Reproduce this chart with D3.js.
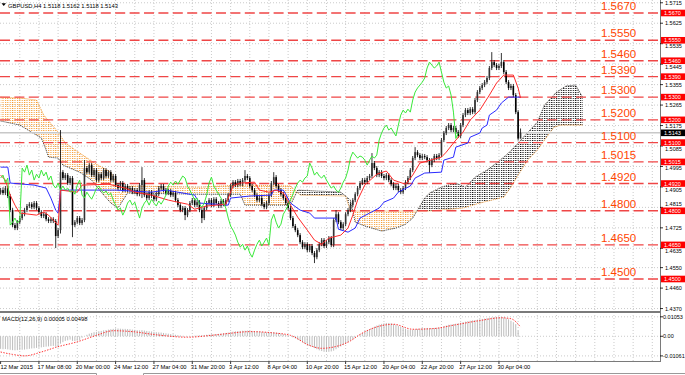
<!DOCTYPE html>
<html>
<head>
<meta charset="utf-8">
<title>GBPUSD,H4</title>
<script src="https://cdn.jsdelivr.net/npm/d3@7"></script>
<style>
  body { margin: 0; background: #fff; }
  svg { display: block; }
  .small { font-family: 'Liberation Sans', Arial, sans-serif; font-size: 5.8px; fill: #000; }
  .tick { font-family: 'Liberation Sans', Arial, sans-serif; font-size: 5.5px; fill: #000; }
  .level { font-family: 'Liberation Sans', Arial, sans-serif; font-size: 11.5px; fill: #ff4500; }
</style>
</head>
<body>
<svg id="chart" width="685" height="375"></svg>
<script>
// H4 closes, one per bar (12 Mar .. 1 May 2015)
const closes = [
  1.4891,1.4878,1.4900,1.4865,1.4803,1.4737,1.4724,1.4750,1.4768,1.4785,
  1.4803,1.4821,1.4829,1.4816,1.4834,1.4812,1.4794,1.4777,1.4785,1.4763,
  1.4755,1.4763,1.4755,1.4689,1.4715,1.4970,1.4944,1.4957,1.4922,1.4944,
  1.4737,1.4750,1.4768,1.4746,1.4759,1.4988,1.4970,1.5001,1.4957,1.4979,
  1.4935,1.4961,1.4944,1.4979,1.4953,1.4970,1.4935,1.4953,1.4913,1.4900,
  1.4922,1.4891,1.4909,1.4891,1.4900,1.4882,1.4891,1.4873,1.4913,1.4935,
  1.4869,1.4856,1.4882,1.4865,1.4851,1.4873,1.4900,1.4909,1.4891,1.4878,
  1.4887,1.4869,1.4878,1.4847,1.4825,1.4803,1.4812,1.4781,1.4803,1.4834,
  1.4847,1.4825,1.4838,1.4803,1.4768,1.4812,1.4834,1.4847,1.4825,1.4851,
  1.4834,1.4821,1.4843,1.4829,1.4847,1.4869,1.4909,1.4926,1.4913,1.4931,
  1.4917,1.4935,1.4953,1.4944,1.4909,1.4891,1.4869,1.4847,1.4856,1.4829,
  1.4816,1.4834,1.4869,1.4922,1.4948,1.4909,1.4891,1.4873,1.4856,1.4834,
  1.4812,1.4768,1.4733,1.4715,1.4693,1.4662,1.4640,1.4653,1.4627,1.4645,
  1.4614,1.4596,1.4627,1.4653,1.4671,1.4645,1.4662,1.4680,1.4649,1.4759,
  1.4785,1.4750,1.4724,1.4741,1.4785,1.4803,1.4825,1.4847,1.4873,1.4900,
  1.4922,1.4935,1.4926,1.4944,1.4953,1.5010,1.4988,1.4957,1.4970,1.4953,
  1.4944,1.4957,1.4935,1.4917,1.4900,1.4909,1.4891,1.4882,1.4900,1.4926,
  1.4944,1.4979,1.5032,1.5058,1.5045,1.5032,1.5041,1.5036,1.5023,1.5001,
  1.5023,1.5041,1.5032,1.5045,1.5111,1.5142,1.5164,1.5177,1.5155,1.5164,
  1.5146,1.5129,1.5177,1.5221,1.5243,1.5230,1.5247,1.5234,1.5287,1.5322,
  1.5340,1.5353,1.5366,1.5384,1.5428,1.5454,1.5441,1.5428,1.5437,1.5454,
  1.5410,1.5366,1.5340,1.5349,1.5309,1.5234,1.5118,1.5143
];
const firstOpen = 1.4880;
const wickPips = 9;
// [bar, pips] where the wick differs from the usual one
const upWicks = [[1,12],[25,185],[35,35],[59,57],[102,26],[114,22],[140,18],[155,44],[173,22],[205,44],[209,40],[217,19]];
const downWicks = [[23,53],[25,15],[30,53],[59,57],[77,22],[84,22],[131,26],[179,35],[217,0]];

// Ichimoku lines as [bar, price]
const tenkan = [[0,1.4957],[2,1.4935],[4,1.4869],[6,1.4825],[8,1.4790],[15,1.4781],[18,1.4794],[20,1.4781],[22,1.4759],[24,1.4737],[25,1.4891],[32,1.4882],[34,1.4913],[45,1.4917],[52,1.4900],[56,1.4882],[63,1.4869],[70,1.4847],[78,1.4829],[81,1.4807],[86,1.4821],[94,1.4829],[97,1.4909],[100,1.4922],[106,1.4926],[108,1.4891],[112,1.4882],[115,1.4891],[118,1.4878],[121,1.4825],[124,1.4772],[128,1.4715],[131,1.4671],[134,1.4653],[137,1.4680],[142,1.4693],[145,1.4724],[147,1.4781],[149,1.4847],[152,1.4913],[157,1.4961],[161,1.4975],[164,1.4935],[169,1.4917],[172,1.4957],[175,1.5010],[184,1.5036],[186,1.5058],[190,1.5111],[193,1.5146],[196,1.5199],[200,1.5243],[204,1.5309],[207,1.5362],[210,1.5397],[214,1.5397],[216,1.5340],[217,1.5296]];
const kijun = [[0,1.4992],[3,1.4992],[4,1.4922],[14,1.4913],[19,1.4900],[21,1.4856],[23,1.4803],[24,1.4790],[25,1.4891],[48,1.4891],[63,1.4882],[69,1.4891],[81,1.4869],[83,1.4834],[95,1.4825],[96,1.4856],[104,1.4865],[113,1.4869],[114,1.4891],[118,1.4891],[119,1.4873],[121,1.4834],[125,1.4803],[129,1.4790],[131,1.4768],[140,1.4768],[141,1.4719],[145,1.4706],[148,1.4724],[150,1.4768],[154,1.4790],[158,1.4812],[160,1.4838],[164,1.4856],[166,1.4882],[171,1.4909],[173,1.4944],[177,1.4966],[184,1.4970],[185,1.5023],[189,1.5036],[190,1.5080],[195,1.5098],[196,1.5124],[200,1.5142],[201,1.5164],[203,1.5177],[204,1.5221],[207,1.5243],[209,1.5274],[212,1.5300],[217,1.5300]];
const senkouA = [[0,1.5195],[8,1.5177],[17,1.5120],[19,1.5067],[20,1.5036],[24,1.5032],[26,1.5001],[33,1.4970],[38,1.4935],[42,1.4882],[46,1.4834],[49,1.4812],[53,1.4878],[83,1.4873],[100,1.4873],[102,1.4825],[121,1.4825],[124,1.4891],[142,1.4882],[146,1.4847],[148,1.4750],[152,1.4733],[159,1.4711],[165,1.4724],[169,1.4741],[172,1.4768],[174,1.4803],[177,1.4856],[179,1.4878],[184,1.4904],[190,1.4922],[194,1.4904],[198,1.4948],[203,1.4979],[207,1.5010],[212,1.5054],[216,1.5098],[219,1.5133],[224,1.5190],[227,1.5265],[232,1.5322],[236,1.5349],[240,1.5353],[243,1.5298]];
const senkouB = [[0,1.5300],[8,1.5296],[15,1.5287],[18,1.5221],[24,1.5146],[27,1.5098],[33,1.5054],[40,1.5005],[46,1.4970],[48,1.4926],[50,1.4869],[52,1.4900],[54,1.4909],[83,1.4904],[100,1.4913],[121,1.4909],[125,1.4869],[144,1.4865],[146,1.4799],[179,1.4799],[193,1.4812],[200,1.4834],[210,1.4860],[213,1.4904],[216,1.4957],[220,1.5023],[224,1.5067],[227,1.5111],[231,1.5168],[234,1.5177],[243,1.5177]];

const levels = [1.5670,1.5550,1.5460,1.5390,1.5300,1.5200,1.5100,1.5015,1.4920,1.4800,1.4650,1.4500];
const priceTicks = [1.5715,1.5625,1.5535,1.5445,1.5355,1.5265,1.5175,1.5085,1.4995,1.4905,1.4815,1.4725,1.4635,1.4550,1.4460,1.4370];
const lastPrice = 1.5143;
const dateLabels = ["12 Mar 2015","17 Mar 08:00","20 Mar 00:00","24 Mar 12:00","27 Mar 04:00","31 Mar 20:00","3 Apr 12:00","8 Apr 04:00","10 Apr 20:00","15 Apr 12:00","20 Apr 04:00","22 Apr 20:00","27 Apr 12:00","30 Apr 04:00"];

// MACD main (histogram), units of 0.0001, one per bar
const macdMain = [
  -68,-70,-69,-71,-73,-75,-76,-75,-74,-73,-72,
  -70,-68,-66,-65,-63,-62,-60,-58,-56,-55,-53,
  -52,-56,-57,-40,-32,-25,-22,-18,-25,-26,-24,
  -22,-8,0,8,14,18,22,24,27,29,
  32,34,36,38,40,42,42,41,40,40,39,38,
  36,35,33,32,33,31,29,27,26,
  24,22,21,20,18,16,14,12,10,8,6,4,2,0,-1,0,
  2,3,4,5,6,7,8,9,10,11,12,13,14,16,18,20,23,
  25,27,28,29,30,30,31,30,29,28,27,26,
  24,22,21,22,23,22,20,18,15,12,8,4,0,-6,
  -12,-18,-25,-32,-40,-46,-52,-58,-64,-70,-76,-80,-84,-85,-84,-82,-78,
  -70,-62,-55,-48,-40,-32,-24,
  -15,-6,2,10,
  18,25,32,38,45,52,58,63,67,70,72,
  72,70,66,62,57,52,46,40,36,34,35,
  38,40,42,43,44,45,44,44,45,46,47,
  50,54,58,62,64,66,68,70,73,76,79,82,84,86,88,90,92,94,
  96,98,100,102,104,105,105,104,
  102,98,92,84,76,66,30,1
];
// MACD signal as [bar, units of 0.0001]
const macdSignal = [[0,-85],[5,-98],[10,-106],[17,-85],[23,-60],[32,-30],[40,5],[47,30],[55,25],[65,8],[78,-5],[88,5],[95,15],[104,25],[114,18],[121,5],[129,-50],[134,-65],[140,-55],[146,-25],[150,10],[160,60],[164,65],[172,38],[181,42],[189,60],[200,85],[209,100],[213,95],[217,50]];

const svg = d3.select("#chart");
const W = 685, plotR = 660, mainB = 311, macdT = 313, macdB = 361.5;

const x = d3.scaleLinear().domain([0, 275]).range([0.6, 0.6 + 275 * 2.396]);
const y = d3.scaleLinear().domain([1.4500, 1.5670]).range([279, 13]);
const ym = d3.scaleLinear().domain([-0.01061, 0.01053]).range([355.9, 316.8]);

const defs = svg.append("defs");
defs.append("clipPath").attr("id", "mainClip")
  .append("rect").attr("x", 0).attr("y", 0).attr("width", plotR).attr("height", mainB);
defs.append("clipPath").attr("id", "macdClip")
  .append("rect").attr("x", 0).attr("y", macdT).attr("width", plotR).attr("height", macdB - macdT);

let dotPattern = (id, color, w) => {
  let p = defs.append("pattern").attr("id", id)
    .attr("patternUnits", "userSpaceOnUse")
    .attr("x", x(0) - 0.5).attr("y", 0)
    .attr("width", x(1) - x(0)).attr("height", 2);
  p.append("rect").attr("width", w).attr("height", 1).attr("fill", color);
};
dotPattern("dotsOrange", "#f59a2e", 1.1);
dotPattern("dotsBlack", "#111", 1.2);

svg.append("rect").attr("width", W).attr("height", 375).attr("fill", "#fff");

// grid
let grid = svg.append("g").attr("stroke", "#bcbcbc").attr("stroke-dasharray", "1,2").attr("stroke-width", 0.8);
for (let b = 8; x(b) < plotR; b += 8) {
  grid.append("line").attr("x1", x(b)).attr("x2", x(b)).attr("y1", 0).attr("y2", macdB);
}
priceTicks.forEach(p => {
  grid.append("line").attr("x1", 0).attr("x2", plotR).attr("y1", y(p)).attr("y2", y(p));
});
[0.01053, 0, -0.01061].forEach(v => {
  grid.append("line").attr("x1", 0).attr("x2", plotR).attr("y1", ym(v)).attr("y2", ym(v));
});

let main = svg.append("g").attr("clip-path", "url(#mainClip)");

// cloud: fill between senkou A and B, orange where B is on top, black where A is on top
let toPx = d => [x(d[0]), y(d[1])];
let aPx = senkouA.map(toPx), bPx = senkouB.map(toPx);
let lastX = x(senkouA[senkouA.length - 1][0]);
let poly = pts => "M" + pts.map(p => p.join(",")).join("L") + "Z";
let between = poly(aPx.concat(bPx.slice().reverse()));

defs.append("clipPath").attr("id", "aboveA")
  .append("path").attr("d", poly([[aPx[0][0], -10]].concat(aPx, [[lastX, -10]])));
defs.append("clipPath").attr("id", "belowA")
  .append("path").attr("d", poly([[aPx[0][0], 400]].concat(aPx, [[lastX, 400]])));

main.append("path").attr("d", between).attr("fill", "url(#dotsOrange)").attr("clip-path", "url(#aboveA)");
main.append("path").attr("d", between).attr("fill", "url(#dotsBlack)").attr("clip-path", "url(#belowA)");

let priceLine = d3.line().x(d => x(d[0])).y(d => y(d[1]));
main.append("path").attr("d", priceLine(senkouB)).attr("fill", "none")
  .attr("stroke", "#f39a35").attr("stroke-width", 1).attr("stroke-dasharray", "1,1");
main.append("path").attr("d", priceLine(senkouA)).attr("fill", "none")
  .attr("stroke", "#222").attr("stroke-width", 0.9).attr("stroke-dasharray", "1,1");

// horizontal levels
main.selectAll(".lvl").data(levels).enter().append("line")
  .attr("x1", 0).attr("x2", plotR)
  .attr("y1", d => y(d)).attr("y2", d => y(d))
  .attr("stroke", "#ef4646").attr("stroke-width", 1.4)
  .attr("stroke-dasharray", "10,4.4");

// bid line
main.append("line").attr("x1", 0).attr("x2", plotR)
  .attr("y1", y(lastPrice)).attr("y2", y(lastPrice))
  .attr("stroke", "#c8c8c8").attr("stroke-width", 1.5);

// candles
let upMap = new Map(upWicks), dnMap = new Map(downWicks);
let candles = closes.map((c, i) => {
  let o = i ? closes[i - 1] : firstOpen;
  let up = upMap.has(i) ? upMap.get(i) : wickPips;
  let dn = dnMap.has(i) ? dnMap.get(i) : wickPips;
  return { i, o, c, h: Math.max(o, c) + up * 1e-4, l: Math.min(o, c) - dn * 1e-4 };
});
let cg = main.append("g");
cg.selectAll(".wick").data(candles).enter().append("line")
  .attr("x1", d => x(d.i)).attr("x2", d => x(d.i))
  .attr("y1", d => y(d.h)).attr("y2", d => y(d.l))
  .attr("stroke", "#000").attr("stroke-width", 0.8);
cg.selectAll(".body").data(candles).enter().append("rect")
  .attr("x", d => x(d.i) - 0.8).attr("width", 1.6)
  .attr("y", d => y(Math.max(d.o, d.c)))
  .attr("height", d => Math.max(1, Math.abs(y(d.o) - y(d.c))))
  .attr("fill", d => d.c >= d.o ? "#333" : "#000");

// tenkan / kijun / chikou
main.append("path").attr("d", priceLine(kijun)).attr("fill", "none")
  .attr("stroke", "#2a2aff").attr("stroke-width", 1);
main.append("path").attr("d", priceLine(tenkan)).attr("fill", "none")
  .attr("stroke", "#ff2a2a").attr("stroke-width", 1);
let chikou = closes.map((c, i) => [i - 26, c]).filter(d => d[0] >= 0);
main.append("path").attr("d", priceLine(chikou)).attr("fill", "none")
  .attr("stroke", "#3ae83a").attr("stroke-width", 1);

// level captions
svg.selectAll(".lvlText").data(levels).enter().append("text")
  .attr("class", "level")
  .attr("x", 601).attr("y", d => y(d) - 2.8)
  .text(d => d.toFixed(4));

// MACD pane
let mg = svg.append("g").attr("clip-path", "url(#macdClip)");
mg.selectAll(".hist").data(macdMain).enter().append("line")
  .attr("x1", (d, i) => x(i)).attr("x2", (d, i) => x(i))
  .attr("y1", ym(0)).attr("y2", d => ym(d * 1e-4))
  .attr("stroke", "#bdbdbd").attr("stroke-width", 1);
mg.append("path")
  .attr("d", d3.line().curve(d3.curveMonotoneX).x(d => x(d[0])).y(d => ym(d[1] * 1e-4))(macdSignal))
  .attr("fill", "none").attr("stroke", "#ff3030").attr("stroke-width", 1)
  .attr("stroke-dasharray", "1.4,1.4");

// pane frames
svg.append("rect").attr("x", 0).attr("y", mainB).attr("width", plotR + 1).attr("height", 2).attr("fill", "#7a7a7a");
svg.append("line").attr("x1", 0).attr("x2", plotR).attr("y1", macdB).attr("y2", macdB)
  .attr("stroke", "#7a7a7a").attr("stroke-width", 1);
svg.append("line").attr("x1", plotR + 0.5).attr("x2", plotR + 0.5).attr("y1", 0).attr("y2", macdB + 0.5)
  .attr("stroke", "#7a7a7a").attr("stroke-width", 1);

// right price axis; tick captions step aside from the level tags
let ax = svg.append("g");
let tagH = 3.3, asc = 4.6, desc = 1.3;
let tags = levels.concat([lastPrice]).map(p => [y(p) - tagH, y(p) + tagH]);
let hits = b => tags.filter(t => b - asc < t[1] && b + desc > t[0]);
priceTicks.forEach(p => {
  let base = y(p) + 2;
  let hit = hits(base);
  if (hit.length) {
    let t = hit[0];
    let cands = [t[1] + asc + 0.2, t[0] - desc - 0.2]
      .sort((a, b) => Math.abs(a - base) - Math.abs(b - base));
    let ok = cands.find(c => hits(c).length === 0);
    base = ok !== undefined ? ok : cands[0];
  }
  ax.append("line").attr("x1", plotR).attr("x2", plotR + 3).attr("y1", y(p)).attr("y2", y(p)).attr("stroke", "#000").attr("stroke-width", 0.8);
  ax.append("text").attr("class", "tick").attr("x", 665).attr("y", base).text(p.toFixed(4));
});
[[0.01053, "0.01053"], [0, "0.00"], [-0.01061, "-0.01061"]].forEach(([v, t]) => {
  ax.append("line").attr("x1", plotR).attr("x2", plotR + 3).attr("y1", ym(v)).attr("y2", ym(v)).attr("stroke", "#000").attr("stroke-width", 0.8);
  ax.append("text").attr("class", "tick").attr("x", 663).attr("y", ym(v) + 2).text(t);
});

// level tags on the axis
levels.forEach(p => {
  ax.append("rect").attr("x", plotR + 1).attr("y", y(p) - tagH).attr("width", W - plotR - 1).attr("height", tagH * 2).attr("fill", "#ff0000");
  ax.append("text").attr("class", "tick").attr("x", 664).attr("y", y(p) + 2).style("fill", "#fff").text(p.toFixed(4));
});
ax.append("rect").attr("x", plotR + 1).attr("y", y(lastPrice) - tagH).attr("width", W - plotR - 1).attr("height", tagH * 2).attr("fill", "#000");
ax.append("text").attr("class", "tick").attr("x", 664).attr("y", y(lastPrice) + 2).style("fill", "#fff").text(lastPrice.toFixed(4));

// time axis
dateLabels.forEach((t, k) => {
  let bx = x(k * 16);
  svg.append("line").attr("x1", bx).attr("x2", bx).attr("y1", macdB).attr("y2", macdB + 2.5).attr("stroke", "#000").attr("stroke-width", 0.8);
  svg.append("text").attr("class", "small").attr("x", Math.max(0.5, bx - 1.5)).attr("y", 368.5).text(t);
});

// tab strip at the bottom
svg.append("path").attr("d", "M0,373.5H96.5V375M143.5,375V373.5H685")
  .attr("fill", "none").attr("stroke", "#999").attr("stroke-width", 1);

// header lines
svg.append("path").attr("d", "M1.5,3.2L6,3.2L3.75,6Z").attr("fill", "#000");
svg.append("text").attr("class", "small").attr("x", 8).attr("y", 7.5)
  .text("GBPUSD,H4  1.5118 1.5162 1.5118 1.5143");
svg.append("text").attr("class", "small").attr("x", 2).attr("y", 320.5)
  .text("MACD(12,26,9) 0.00005 0.00498");
</script>
</body>
</html>
